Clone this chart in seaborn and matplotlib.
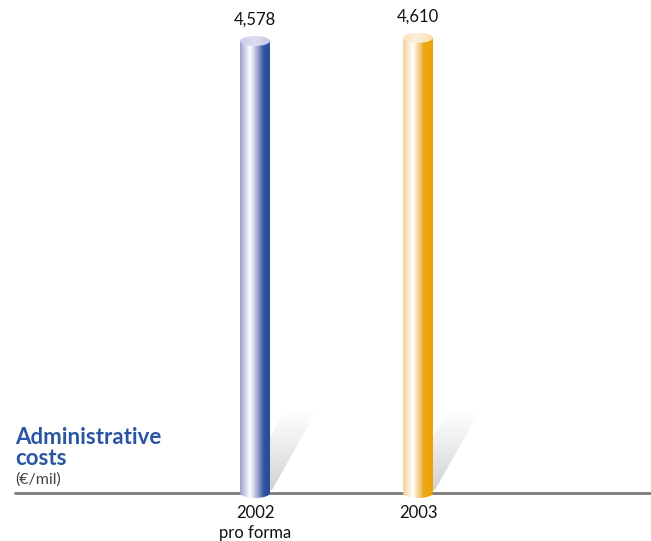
import numpy as np
import matplotlib
matplotlib.use("Agg")
import matplotlib.pyplot as plt
import seaborn as sns
from matplotlib.colors import LinearSegmentedColormap
from matplotlib.patches import Polygon, Ellipse

# ---- data ----
categories = ["2002\npro forma", "2003"]
values = [4578, 4610]
value_labels = ["4,578", "4,610"]
title_lines = ["Administrative", "costs"]
unit_label = "(€/mil)"

# ---- style ----
sns.set_theme(style="white")
plt.rcParams["font.family"] = ["Lato", "DejaVu Sans"]

W, H = 651, 541
fig = plt.figure(figsize=(W / 100, H / 100), dpi=100)
ax = fig.add_axes([0, 0, 1, 1])

bar_w = 30 / 163
sns.barplot(x=categories, y=values, width=bar_w, color="white", ax=ax,
            saturation=1, linewidth=0)

# scale: pixels -> data
ypx = 4578 / 452.0        # data units per pixel vertically
xpx = 1 / 163.0           # data units per pixel horizontally
ax.set_xlim(-255 * xpx, 1 + (651 - 418) * xpx)
ax.set_ylim(-48 * ypx, 493 * ypx)
ax.axis("off")

grads = [
    [(0.0, "#9ca1cf"), (0.14, "#c6c9e5"), (0.33, "#ffffff"), (0.45, "#d6d9ed"),
     (0.6, "#9ba3cf"), (0.74, "#4d66ad"), (0.84, "#2c509f"), (1.0, "#2a4e9c")],
    [(0.0, "#f4d39a"), (0.14, "#fbe5c2"), (0.33, "#ffffff"), (0.45, "#fbe2b6"),
     (0.58, "#f3c67a"), (0.68, "#eca81c"), (1.0, "#eba300")],
]
caps = [["#c9cce8", "#dcdef1", "#c3c7e4"], ["#fbe3bd", "#fdf0dc", "#f9dcaa"]]

cap_b = 5 * ypx   # semi-minor axis of elliptical ends

shadow_cmap = LinearSegmentedColormap.from_list("sh", ["#d0d0d0", "#e8e8e8", "#ffffff"])

for i, patch in enumerate(ax.patches[:len(values)]):
    x0 = patch.get_x()
    w = patch.get_width()
    h = patch.get_height()
    xc = x0 + w / 2
    patch.set_alpha(0)

    # shadow
    sh_top = 81 * ypx
    sh = [(xc - 15 * xpx, 3 * ypx), (xc + 17 * xpx, 3 * ypx),
          (xc + 61 * xpx, sh_top), (xc + 29 * xpx, sh_top)]
    sp = Polygon(sh, closed=True, facecolor="none", edgecolor="none")
    ax.add_patch(sp)
    grad = np.linspace(0, 1, 100).reshape(-1, 1)
    im = ax.imshow(grad, cmap=shadow_cmap, extent=[xc - 15 * xpx, xc + 61 * xpx, 0, sh_top],
                   origin="lower", aspect="auto", zorder=1)
    im.set_clip_path(sp)

    # body with rounded bottom
    t = np.linspace(np.pi, 2 * np.pi, 40)
    bottom = np.column_stack([xc + (w / 2) * np.cos(t), cap_b * np.sin(t)])
    verts = np.vstack([[[x0, h]], bottom, [[x0 + w, h]], [[x0, h]]])
    body = Polygon(verts, closed=True, facecolor="none", edgecolor="none")
    ax.add_patch(body)
    cmap = LinearSegmentedColormap.from_list(f"b{i}", grads[i])
    row = np.linspace(0, 1, 200).reshape(1, -1)
    im = ax.imshow(row, cmap=cmap, extent=[x0, x0 + w, -cap_b, h],
                   aspect="auto", zorder=3)
    im.set_clip_path(body)

    # top cap
    cap = Ellipse((xc, h), w, 2 * cap_b, facecolor="none", edgecolor="none")
    ax.add_patch(cap)
    ccmap = LinearSegmentedColormap.from_list(f"c{i}", caps[i])
    im = ax.imshow(row, cmap=ccmap, extent=[x0, x0 + w, h - cap_b, h + cap_b],
                   aspect="auto", zorder=4)
    im.set_clip_path(cap)

    # value label
    ax.text(xc, h + 13 * ypx, value_labels[i], ha="center", va="bottom",
            fontsize=12, color="#111111")
    # category label
    ax.text(xc, -12 * ypx, categories[i], ha="center", va="top",
            fontsize=12, color="#111111", linespacing=1.3)

# baseline
ax.axhline(0, xmin=15 / W, xmax=650 / W, color="#7a7a7a", lw=2, zorder=2)

# title
ax.text(15 / W, 1 - 427 / H, title_lines[0] + "\n" + title_lines[1], transform=ax.transAxes,
        ha="left", va="top", fontsize=16, fontweight="bold", color="#2a55a2",
        linespacing=1.0)
ax.text(15 / W, 1 - 472 / H, unit_label, transform=ax.transAxes, ha="left", va="top",
        fontsize=11.5, color="#444444")

fig.savefig("out.png", dpi=100, facecolor="white")
